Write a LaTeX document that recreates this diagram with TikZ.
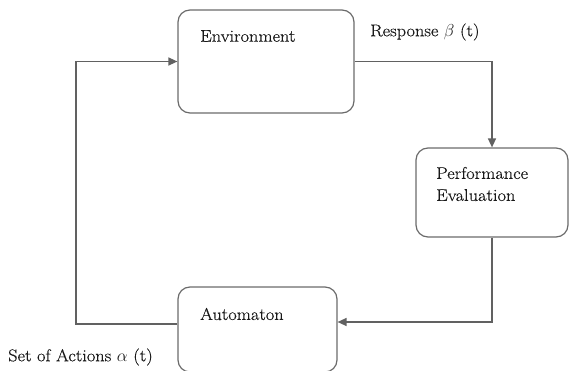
\documentclass[tikz,border=0pt]{standalone}
\usepackage{fontspec}
\setmainfont{Latin Modern Roman}[FakeStretch=1.08, FakeBold=0.4]
\usetikzlibrary{arrows.meta}
\begin{document}
\begin{tikzpicture}[x=1pt,y=-1pt,
  blockbox/.style={draw=black!58, line width=1.2pt, rounded corners=12pt,
    inner sep=0pt, fill=white},
  lbl/.style={anchor=west, inner sep=0pt, text=black!90,
    font=\fontsize{17}{22}\selectfont, align=left},
  flow/.style={draw=black!62, line width=1.4pt,
    -{Triangle[length=9pt,width=8pt]}}]
  \useasboundingbox (0,0) rectangle (571,371);
  \clip (0,0) rectangle (571,371);

  % blocks
  \node[blockbox, minimum width=176pt, minimum height=103pt] (env) at (266,61.5) {};
  \node[blockbox, minimum width=152pt, minimum height=89pt] (perf) at (492,192.5) {};
  \node[blockbox, minimum width=159pt, minimum height=85pt] (automaton) at (257.5,329.5) {};

  % block titles
  \node[lbl] (envtxt) at (200,36) {Environment};
  \node[lbl] (perftxt) at (436,184) {Performance\\Evaluation};
  \node[lbl] (autotxt) at (200,314) {Automaton};

  % signal labels
  \node[lbl] (resp) at (370,32) {Response $\beta$ (t)};
  \node[lbl] (acts) at (8,357) {Set of Actions $\alpha$ (t)};

  % feedback loop
  \draw[flow] (env.east) -| (perf.north);
  \draw[flow] (perf.south) |- ([yshift=7.5pt]automaton.east);
  \coordinate (corner) at (76,324);
  \draw[flow] ([yshift=5.5pt]automaton.west) -- (corner) |- (env.west);
\end{tikzpicture}
\end{document}
